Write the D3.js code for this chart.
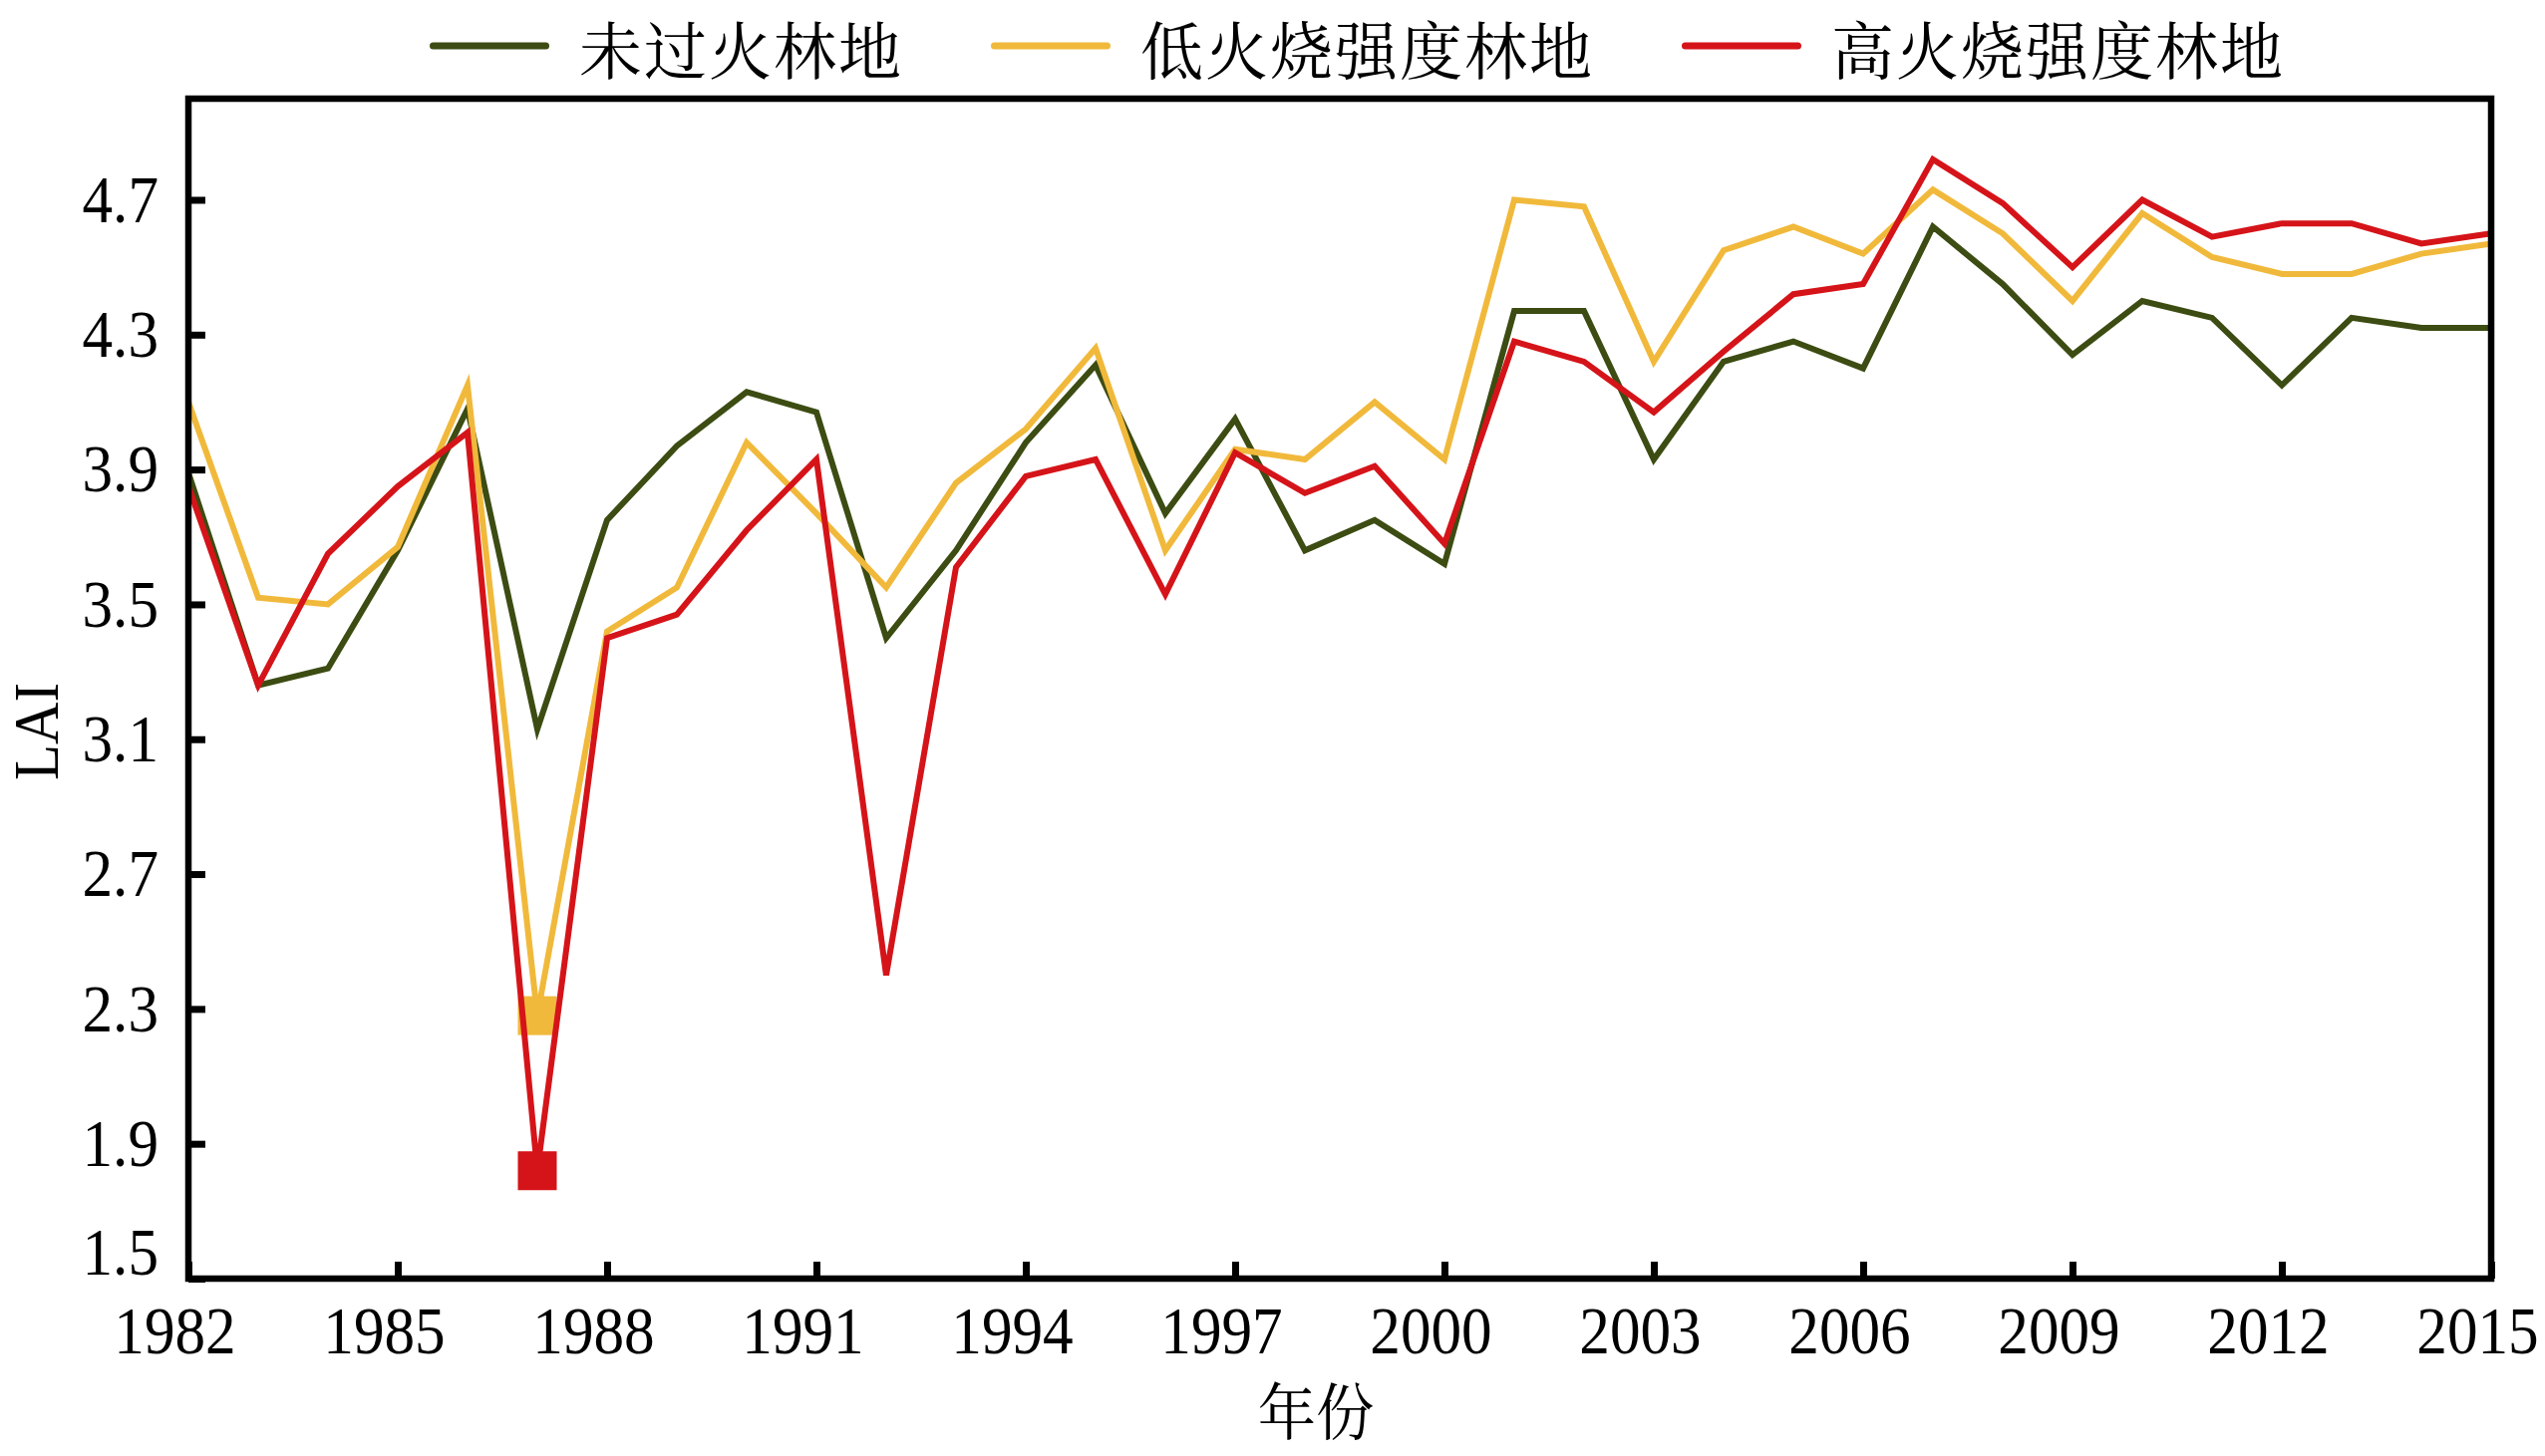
<!DOCTYPE html>
<html>
<head>
<meta charset="utf-8">
<script src="https://cdn.jsdelivr.net/npm/d3@7/dist/d3.min.js"></script>
<style>
    html, body { margin: 0; padding: 0; background: #fff; }
</style>
</head>
<body>
<div id="chart"></div>
<script>
// chart values
const years = [1982, 1983, 1984, 1985, 1986, 1987, 1988, 1989, 1990, 1991,
               1992, 1993, 1994, 1995, 1996, 1997, 1998, 1999, 2000, 2001,
               2002, 2003, 2004, 2005, 2006, 2007, 2008, 2009, 2010, 2011,
               2012, 2013, 2014, 2015]
const seriesNames = ["未过火林地", "低火烧强度林地", "高火烧强度林地"]
const unburnedLAI = [3.89, 3.26, 3.31, 3.66, 4.08, 3.13, 3.75, 3.97, 4.13, 4.07,
                     3.40, 3.66, 3.98, 4.21, 3.77, 4.05, 3.66, 3.75, 3.62, 4.37,
                     4.37, 3.93, 4.22, 4.28, 4.20, 4.62, 4.45, 4.24, 4.40, 4.35,
                     4.15, 4.35, 4.32, 4.32]
const lowSeverityLAI = [4.10, 3.52, 3.50, 3.67, 4.15, 2.28, 3.42, 3.55, 3.98, 3.77,
                        3.55, 3.86, 4.02, 4.26, 3.66, 3.96, 3.93, 4.10, 3.93, 4.70,
                        4.68, 4.22, 4.55, 4.62, 4.54, 4.73, 4.60, 4.40, 4.66, 4.53,
                        4.48, 4.48, 4.54, 4.57]
const highSeverityLAI = [3.85, 3.26, 3.65, 3.85, 4.01, 1.82, 3.40, 3.47, 3.72, 3.93,
                         2.40, 3.61, 3.88, 3.93, 3.53, 3.95, 3.83, 3.91, 3.68, 4.28,
                         4.22, 4.07, 4.25, 4.42, 4.45, 4.82, 4.69, 4.50, 4.70, 4.59,
                         4.63, 4.63, 4.57, 4.60]
const markedYears = [[], [1987], [1987]]   // years flagged with a square marker
const xTicks = [1982, 1985, 1988, 1991, 1994, 1997, 2000, 2003, 2006, 2009, 2012, 2015]
const yTicks = [1.5, 1.9, 2.3, 2.7, 3.1, 3.5, 3.9, 4.3, 4.7]
const yDomain = [1.5, 5.0]
const xLabel = "年份"
const yLabel = "LAI"

// layout
const width = 2553
const height = 1461
const marginTop = 99
const marginRight = 54
const marginBottom = 178
const marginLeft = 189
const colors = ["#3c4c12", "#f1b93b", "#d51419"]
const numFont = "'Liberation Serif', 'Times New Roman', serif"
const cjkFont = "'Noto Serif CJK SC', 'Noto Sans CJK SC', sans-serif"

const seriesValues = [unburnedLAI, lowSeverityLAI, highSeverityLAI]
const series = seriesNames.map((name, i) => ({
    name: name,
    color: colors[i],
    points: years.map((yr, j) => ({year: yr, value: seriesValues[i][j]})),
    marks: markedYears[i]
}))

const x = d3.scaleLinear([years[0], years[years.length - 1]], [marginLeft, width - marginRight])
const y = d3.scaleLinear(yDomain, [height - marginBottom, marginTop])

const svg = d3.select("#chart")
    .append("svg")
    .attr("width", width)
    .attr("height", height)
    .attr("viewBox", [0, 0, width, height])

// x axis, ticks pointing inward
svg.append("g")
    .attr("transform", `translate(0,${height - marginBottom})`)
    .call(d3.axisBottom(x).tickValues(xTicks).tickFormat(d3.format("d")).tickSizeInner(-17).tickSizeOuter(0))
    .call(g => g.select(".domain").remove())
    .call(g => g.selectAll(".tick line").attr("stroke", "#000").attr("stroke-width", 7))
    .call(g => g.selectAll(".tick text")
        .attr("x", 0).attr("y", 0).attr("dy", null)
        .attr("transform", "translate(-14,75) scale(0.9,1)")
        .attr("fill", "#000")
        .attr("font-family", numFont)
        .attr("font-size", 68))

// y axis
svg.append("g")
    .attr("transform", `translate(${marginLeft},0)`)
    .call(d3.axisLeft(y).tickValues(yTicks).tickFormat(d3.format(".1f")).tickSizeInner(-17).tickSizeOuter(0))
    .call(g => g.select(".domain").remove())
    .call(g => g.selectAll(".tick line").attr("stroke", "#000").attr("stroke-width", 7))
    .call(g => g.selectAll(".tick text")
        .attr("x", 0)
        .attr("dy", "0.32em")
        .attr("transform", d => `translate(-30,${d === yDomain[0] ? -26 : 0}) scale(0.9,1)`)
        .attr("fill", "#000")
        .attr("font-family", numFont)
        .attr("font-size", 68))

// axis titles
svg.append("text")
    .attr("transform", `translate(1320,1440) scale(0.94,1)`)
    .attr("text-anchor", "middle")
    .attr("font-family", cjkFont)
    .attr("font-size", 62)
    .attr("fill", "#000")
    .text(xLabel)

svg.append("text")
    .attr("transform", "translate(58,734) rotate(-90) scale(0.92,1)")
    .attr("text-anchor", "middle")
    .attr("font-family", numFont)
    .attr("font-size", 64)
    .attr("fill", "#000")
    .text(yLabel)

// series lines and markers
const line = d3.line()
    .x(d => x(d.year))
    .y(d => y(d.value))

const markSize = 39
series.forEach(s => {
    svg.append("path")
        .datum(s.points)
        .attr("fill", "none")
        .attr("stroke", s.color)
        .attr("stroke-width", 6)
        .attr("stroke-linejoin", "miter")
        .attr("d", line)

    svg.append("g")
        .selectAll("rect")
        .data(s.points.filter(p => s.marks.includes(p.year)))
        .join("rect")
        .attr("x", d => x(d.year) - markSize / 2)
        .attr("y", d => y(d.value) - markSize / 2)
        .attr("width", markSize)
        .attr("height", markSize)
        .attr("fill", s.color)
})

// frame
svg.append("rect")
    .attr("x", marginLeft)
    .attr("y", marginTop)
    .attr("width", width - marginLeft - marginRight)
    .attr("height", height - marginTop - marginBottom)
    .attr("fill", "none")
    .attr("stroke", "#000")
    .attr("stroke-width", 6.5)

// legend across the top
const legend = svg.append("g")
let cursor = 431
series.forEach(s => {
    const item = legend.append("g").attr("transform", `translate(${cursor},0)`)
    item.append("line")
        .attr("x1", 3.5).attr("x2", 116.5)
        .attr("y1", 46).attr("y2", 46)
        .attr("stroke", s.color)
        .attr("stroke-width", 7)
        .attr("stroke-linecap", "round")
    const t = item.append("text")
        .attr("x", 150)
        .attr("y", 74)
        .attr("font-family", cjkFont)
        .attr("font-size", 63)
        .attr("letter-spacing", 2)
        .attr("fill", "#000")
        .text(s.name)
    cursor += 150 + t.node().getComputedTextLength() + 88
})
</script>
</body>
</html>
